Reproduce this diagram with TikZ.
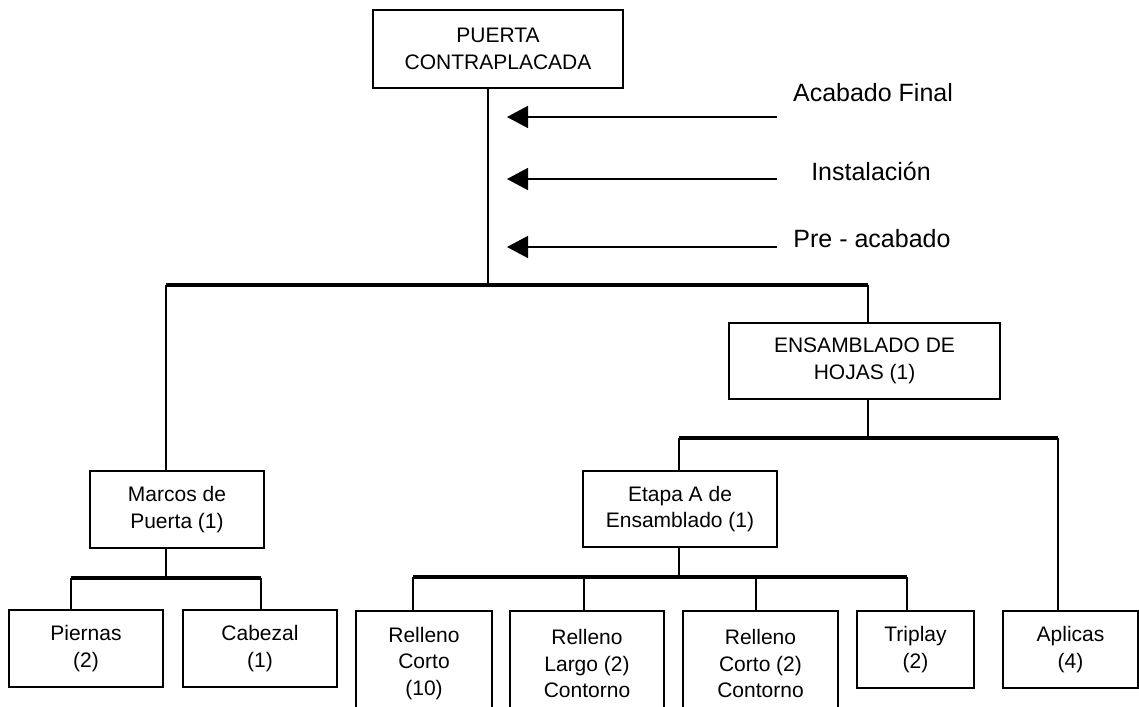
\documentclass[tikz,border=0pt]{standalone}
\usepackage{fontspec}
\setmainfont{Liberation Sans}
\usepackage{tikz}
\usetikzlibrary{arrows.meta}

\tikzset{
	caja/.style={draw, line width=0.9pt, align=center, inner sep=0pt,
		font=\fontsize{10.5}{13.3}\selectfont},
	tallo/.style={line width=0.9pt},
	barra/.style={line width=1.6pt},
	flecha/.style={line width=0.75pt, -{Triangle[length=10.5pt,width=11pt]}},
	etiqueta/.style={anchor=base, inner sep=0pt,
		font=\fontsize{12.5}{15}\selectfont}
}

\begin{document}
\begin{tikzpicture}[x=0.5pt,y=-0.5pt]
	
	\useasboundingbox (0,0) rectangle (1139,706);
	\clip (0,0) rectangle (1139,706);
	
	% --- producto final ---
	\node[caja, minimum width=125pt, minimum height=39pt] (puerta) at (498,49)
	{PUERTA\\CONTRAPLACADA};
	
	% operaciones sobre la puerta
	\node[etiqueta] (acabado) at (873,102) {Acabado Final};
	\node[etiqueta] (instal) at (871,180) {Instalación};
	\node[etiqueta] (preacab) at (872,247) {Pre - acabado};
	
	\coordinate (a1) at (777,117); \coordinate (t1) at (507,117);
	\coordinate (a2) at (777,179); \coordinate (t2) at (507,179);
	\coordinate (a3) at (777,247); \coordinate (t3) at (507,247);
	\draw[flecha] (a1) -- (t1);
	\draw[flecha] (a2) -- (t2);
	\draw[flecha] (a3) -- (t3);
	
	% --- nivel 1 ---
	\node[caja, minimum width=87pt, minimum height=38.5pt] (marcos) at (177,509.5)
	{Marcos de\\Puerta (1)};
	\node[caja, minimum width=135.5pt, minimum height=38pt] (ensam) at (864.5,361)
	{ENSAMBLADO DE\\HOJAS (1)};
	
	\coordinate (j0) at (488,285);
	\coordinate (kMar) at (166,285);
	\coordinate (kEns) at (868,285);
	\draw[tallo] (puerta.south -| j0) -- (j0);
	\draw[barra] (kMar) -- (kEns);
	\draw[tallo] (kMar) -- (kMar |- marcos.north);
	\draw[tallo] (kEns) -- (kEns |- ensam.north);
	
	% --- marcos de puerta ---
	\node[caja, minimum width=77pt, minimum height=38.5pt] (piernas) at (86,648.5)
	{Piernas\\(2)};
	\node[caja, minimum width=77pt, minimum height=38.5pt] (cabezal) at (260,648.5)
	{Cabezal\\(1)};
	
	\coordinate (j1) at (166,578);
	\coordinate (kPie) at (71,578);
	\coordinate (kCab) at (261,578);
	\draw[tallo] (marcos.south -| j1) -- (j1);
	\draw[barra] (kPie) -- (kCab);
	\draw[tallo] (kPie) -- (kPie |- piernas.north);
	\draw[tallo] (kCab) -- (kCab |- cabezal.north);
	
	% --- ensamblado de hojas ---
	\node[caja, minimum width=97pt, minimum height=38pt] (etapa) at (680,509)
	{Etapa A de\\Ensamblado (1)};
	\node[caja, minimum width=67.5pt, minimum height=38.5pt] (aplicas) at (1070.5,649.5)
	{Aplicas\\(4)};
	
	\coordinate (j2) at (868,438);
	\coordinate (kEta) at (679,438);
	\coordinate (kApl) at (1058,438);
	\draw[tallo] (ensam.south -| j2) -- (j2);
	\draw[barra] (kEta) -- (kApl);
	\draw[tallo] (kEta) -- (kEta |- etapa.north);
	\draw[tallo] (kApl) -- (kApl |- aplicas.north);
	
	% --- etapa A ---
	\node[caja, minimum width=68pt, minimum height=52.5pt] (rcorto) at (424,663.5)
	{Relleno\\Corto\\(10)};
	\node[caja, minimum width=77pt, minimum height=52.5pt] (rlargo) at (587,663.5)
	{Relleno\\Largo (2)\\Contorno};
	\node[caja, minimum width=77.5pt, minimum height=52.5pt] (rcont) at (760.5,663.5)
	{Relleno\\Corto (2)\\Contorno};
	\node[caja, minimum width=58.5pt, minimum height=38.5pt] (triplay) at (915.5,649.5)
	{Triplay\\(2)};
	
	\coordinate (j3) at (679,577);
	\coordinate (kRc) at (413,577);
	\coordinate (kRl) at (584,577);
	\coordinate (kRk) at (756,577);
	\coordinate (kTri) at (907,577);
	\draw[tallo] (etapa.south -| j3) -- (j3);
	\draw[barra] (kRc) -- (kTri);
	\draw[tallo] (kRc) -- (kRc |- rcorto.north);
	\draw[tallo] (kRl) -- (kRl |- rlargo.north);
	\draw[tallo] (kRk) -- (kRk |- rcont.north);
	\draw[tallo] (kTri) -- (kTri |- triplay.north);
	
\end{tikzpicture}
\end{document}
